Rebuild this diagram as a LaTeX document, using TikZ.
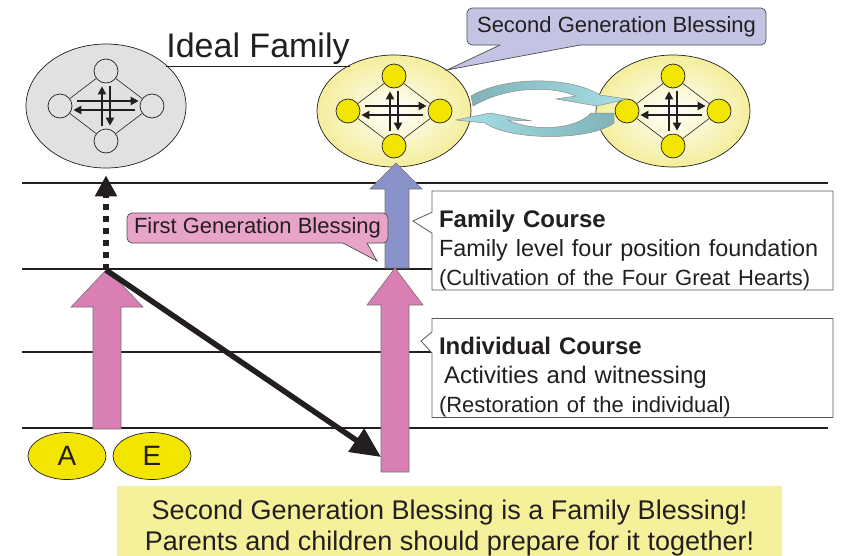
\documentclass[tikz,border=0pt]{standalone}
\usepackage{fontspec}
\setmainfont{Liberation Sans}
\usetikzlibrary{positioning,shapes.geometric,shapes.callouts,arrows.meta}

\definecolor{inkblack}{HTML}{231F20}
\definecolor{familygray}{HTML}{E1E1E1}
\definecolor{familyyellow}{HTML}{F4EE9C}
\definecolor{memberyellow}{HTML}{F2E600}
\definecolor{blessblue}{HTML}{8A93C9}
\definecolor{blesspink}{HTML}{D97FB3}
\definecolor{bubblepink}{HTML}{E8A3C9}
\definecolor{bubbleblue}{HTML}{C3C3E3}
\definecolor{bannerback}{HTML}{F5F19A}
\definecolor{swirlteal}{HTML}{7FB3B8}
\definecolor{swirlcyan}{HTML}{A5DFE6}

\tikzset{
  rung/.style={draw=inkblack, line width=2.5pt},
  familyoval/.style={ellipse, draw=inkblack, line width=0.7pt, minimum width=154pt, minimum height=112pt, inner sep=0pt},
  oval gray/.style={fill=familygray, minimum width=160pt, minimum height=124pt},
  oval yellow/.style={inner color=white, outer color=familyyellow},
  member/.style={circle, draw=inkblack, line width=0.7pt, minimum size=24pt, inner sep=0pt},
  member gray/.style={fill=familygray},
  member yellow/.style={fill=memberyellow},
  bond/.style={draw=inkblack, line width=0.6pt},
  crossarrow/.style={draw=inkblack, line width=2.6pt, -{Triangle[length=8pt,width=8pt]}},
  block/.style={draw=black!55, line width=0.6pt},
  swirl/.style={draw=black!45, line width=0.5pt},
  course/.style={rectangle callout, draw=black!65, fill=white, line width=0.8pt, callout pointer width=21pt,
    minimum width=401pt, minimum height=99pt, text width=387pt, align=left, inner xsep=7pt, inner ysep=0pt,
    text=inkblack, font=\fontsize{24}{29}\selectfont},
  bubble/.style={rounded corners=5pt, draw=black!70, line width=0.7pt, inner sep=0pt,
    text=inkblack, font=\fontsize{22}{26}\selectfont},
  seat/.style={ellipse, draw=inkblack, fill=memberyellow, line width=0.7pt, minimum width=78pt,
    minimum height=47pt, inner sep=0pt, text=inkblack, font=\fontsize{28}{28}\selectfont},
}

\begin{document}
\begin{tikzpicture}[x=1pt, y=-1pt]
  \useasboundingbox (0,0) rectangle (848,555);
  % the four levels
  \foreach \y in {183,269,352,428}
    \draw[rung] (22,\y) -- (828,\y);
  % the three families with their four positions
  \foreach \fam/\cx/\cy/\tone in {ideal/106/106/gray, first/394/111/yellow, second/673/111/yellow} {
    \node[familyoval, oval \tone] (\fam) at (\cx,\cy) {};
    \node[member, member \tone] (\fam-top) at (\cx,\cy-35) {};
    \node[member, member \tone] (\fam-bottom) at (\cx,\cy+35) {};
    \node[member, member \tone] (\fam-left) at (\cx-46,\cy) {};
    \node[member, member \tone] (\fam-right) at (\cx+46,\cy) {};
    \draw[bond] (\fam-top) -- (\fam-right) (\fam-right) -- (\fam-bottom)
      (\fam-bottom) -- (\fam-left) (\fam-left) -- (\fam-top);
    \draw[crossarrow, shorten <=5pt, shorten >=1pt] ([yshift=5pt]\fam-left.east) -- ([yshift=5pt]\fam-right.west);
    \draw[crossarrow, shorten <=5pt, shorten >=1pt] ([yshift=-4pt]\fam-right.west) -- ([yshift=-4pt]\fam-left.east);
    \draw[crossarrow, shorten <=3pt, shorten >=3pt] ([xshift=-4pt]\fam-bottom.north) -- ([xshift=-4pt]\fam-top.south);
    \draw[crossarrow, shorten <=3pt, shorten >=3pt] ([xshift=4pt]\fam-top.south) -- ([xshift=4pt]\fam-bottom.north);
  }
  % the turning arrows between the generations
  \draw[swirl, left color=swirlteal, right color=swirlcyan]
    (471,96) .. controls (505,76) and (570,76) .. (600,95) -- (627,99) -- (597,106) -- (556,99)
    -- (576,96) .. controls (550,85) and (505,87) .. (473,106) -- cycle;
  \draw[swirl, left color=swirlcyan, right color=swirlteal]
    (614,113) -- (614,123) .. controls (590,141) and (510,141) .. (485,123) -- (456,120) -- (490,113)
    -- (532,121) -- (508,120) .. controls (530,131) and (575,131) .. (591,113) -- cycle;
  % block arrows
  \draw[block, fill=blesspink] (93,429) -- (93,307) -- (71,307) -- (107,269) -- (143,307) -- (121,307) -- (121,429) -- cycle;
  \draw[block, fill=blesspink] (381,472) -- (381,305) -- (367,305) -- (395,268) -- (423,305) -- (409,305) -- (409,472) -- cycle;
  \draw[block, fill=blessblue] (385,268) -- (385,189) -- (370,189) -- (396,163) -- (422,189) -- (409,189) -- (409,268) -- cycle;
  % where the first generation splits
  \coordinate (split) at (106,270);
  \coordinate (landing) at (381,457);
  \draw[draw=inkblack, line width=6pt, dash pattern=on 6pt off 6pt, shorten >=7pt,
    -{Triangle[length=21pt,width=21pt]}] (split) -- (ideal);
  \draw[draw=inkblack, line width=5.5pt, -{Triangle[length=30pt,width=27pt]}] (split) -- (landing);
  % the two courses
  \node[course, callout absolute pointer={(413,221)}] (familycourse) at (632.5,240.5)
    {\rule{0pt}{36pt}{\bfseries Family Course}\\
     {\fontsize{23.4}{29}\selectfont Family level four position foundation}\\
     {\fontsize{22}{29}\selectfont (Cultivation of the Four Great Hearts)}};
  \node[course, callout absolute pointer={(421,341)}] (individualcourse) at (632.5,368)
    {\rule{0pt}{36pt}{\bfseries Individual Course}\\
     \hspace*{5pt}Activities and witnessing\\
     {\fontsize{22}{29}\selectfont (Restoration of the individual)}};
  % the blessings
  \node[bubble, fill=bubbleblue, minimum width=299pt, minimum height=37pt] (secondbless) at (616.5,26.5)
    {Second Generation Blessing};
  \fill[bubbleblue] (500,42) -- (500,45) -- (447,70) -- (580,45) -- (580,42) -- cycle;
  \draw[black!70, line width=0.7pt] (500,45) -- (447,70) -- (580,45);
  \node[bubble, fill=bubblepink, minimum width=261pt, minimum height=30pt] (firstbless) at (257.5,228)
    {First Generation Blessing};
  \fill[bubblepink] (343,240) -- (343,243) -- (377,261) -- (367,243) -- (367,240) -- cycle;
  \draw[black!70, line width=0.7pt] (343,243) -- (377,261) -- (367,243);
  % title, seats and motto
  \node[text=inkblack, font=\fontsize{34}{34}\selectfont] (title) at (258,50) {\underline{Ideal Family}};
  \node[seat] (seatA) at (67,456) {A};
  \node[seat] (seatE) at (152,456) {E};
  \node[fill=bannerback, minimum width=665pt, minimum height=85pt, align=center, inner sep=0pt,
    text=inkblack, font=\fontsize{27}{31}\selectfont] (motto) at (449.5,528.5)
    {Second Generation Blessing is a Family Blessing!\\ Parents and children should prepare for it together!};
\end{tikzpicture}
\end{document}
